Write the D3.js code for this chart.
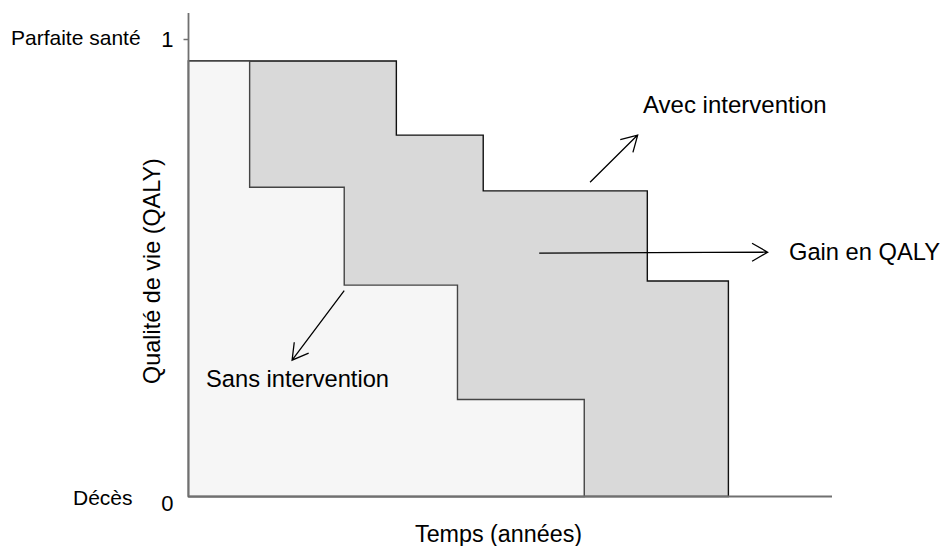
<!DOCTYPE html>
<html>
<head>
<meta charset="utf-8">
<script src="https://cdn.jsdelivr.net/npm/d3@7"></script>
<style>
  html, body { margin: 0; padding: 0; background: #fff; }
  svg { display: block; }
  text { font-family: "Liberation Sans", Arial, sans-serif; fill: #000; }
</style>
</head>
<body>
<svg id="chart" width="946" height="546"></svg>
<script>
// ---- data (time in arbitrary years, quality of life 0..1) ----
const timeDomain = [0, 10];
const qolTicks = [0, 1];
const qolTickLabels = ["0", "1"];
const qolStateLabels = ["Décès", "Parfaite santé"];

// "Sans intervention": step ends and quality level of each step
const sansStepEnds = [0.95, 2.42, 4.18, 6.15];
const sansQoL      = [0.952, 0.676, 0.462, 0.212];

// "Avec intervention"
const avecStepEnds = [3.23, 4.58, 7.13, 8.39];
const avecQoL      = [0.952, 0.79, 0.668, 0.471];

// annotation arrows [t0, q0] -> [t1, q1]
const arrowFrom = [[5.45, 0.532], [6.24, 0.687], [2.42, 0.450]];
const arrowTo   = [[9.00, 0.534], [6.98, 0.790], [1.61, 0.298]];
const arrowLabels = ["Gain en QALY", "Avec intervention", "Sans intervention"];

// ---- layout ----
const svg = d3.select("#chart");
const x = d3.scaleLinear().domain(timeDomain).range([188.5, 832]);
const y = d3.scaleLinear().domain([0, 1]).range([496.5, 39]);

function stepPoints(ends, levels) {
  const pts = [[0, 0]];
  let t0 = 0;
  ends.forEach((t1, i) => {
    pts.push([t0, levels[i]]);
    pts.push([t1, levels[i]]);
    t0 = t1;
  });
  pts.push([t0, 0]);
  return pts;
}

const line = d3.line().x(d => x(d[0])).y(d => y(d[1]));

// with intervention (dark) first, then without (light) on top
svg.append("path")
  .attr("d", line(stepPoints(avecStepEnds, avecQoL)) + "Z")
  .attr("fill", "#d9d9d9")
  .attr("stroke", "#111")
  .attr("stroke-width", 1.4);

svg.append("path")
  .attr("d", line(stepPoints(sansStepEnds, sansQoL)) + "Z")
  .attr("fill", "#f6f6f6")
  .attr("stroke", "#444")
  .attr("stroke-width", 1.4);

// axes
svg.append("line")
  .attr("x1", x(0)).attr("x2", x(0))
  .attr("y1", y(1.057)).attr("y2", y(0))
  .attr("stroke", "#707070").attr("stroke-width", 1.8);
svg.append("line")
  .attr("x1", x(0)).attr("x2", x(timeDomain[1]))
  .attr("y1", y(0)).attr("y2", y(0))
  .attr("stroke", "#707070").attr("stroke-width", 1.8);

const yAxis = svg.append("g")
  .attr("transform", `translate(${x(0)},0)`)
  .call(d3.axisLeft(y).tickValues(qolTicks)
    .tickFormat((d, i) => qolTickLabels[i])
    .tickSize(5).tickPadding(10));
yAxis.select(".domain").remove();
yAxis.selectAll(".tick line").attr("stroke", "#707070").attr("stroke-width", 1.5)
  .attr("opacity", d => d === 0 ? 0 : 1);
yAxis.selectAll(".tick text")
  .attr("font-size", 22)
  .attr("font-family", "Liberation Sans, Arial, sans-serif")
  .attr("fill", "#000")
  .attr("dy", d => d === 0 ? "0.62em" : "0.36em");

// state labels
svg.append("text").attr("x", 11).attr("y", 45)
  .attr("font-size", 21).text(qolStateLabels[1]);
svg.append("text").attr("x", 73).attr("y", 505)
  .attr("font-size", 21).text(qolStateLabels[0]);

// axis titles
svg.append("text").attr("x", 415).attr("y", 542)
  .attr("font-size", 23.3).text("Temps (années)");
svg.append("text")
  .attr("transform", "translate(160,271) rotate(-90)")
  .attr("text-anchor", "middle")
  .attr("font-size", 23.4).text("Qualité de vie (QALY)");

// arrows
function arrow(from, to) {
  const x0 = x(from[0]), y0 = y(from[1]), x1 = x(to[0]), y1 = y(to[1]);
  const ang = Math.atan2(y1 - y0, x1 - x0);
  const L = 18, a = Math.PI / 6;
  const p = d3.path();
  p.moveTo(x0, y0); p.lineTo(x1, y1);
  p.moveTo(x1 - L * Math.cos(ang - a), y1 - L * Math.sin(ang - a));
  p.lineTo(x1, y1);
  p.lineTo(x1 - L * Math.cos(ang + a), y1 - L * Math.sin(ang + a));
  svg.append("path").attr("d", p.toString())
    .attr("fill", "none").attr("stroke", "#000").attr("stroke-width", 1.3);
}
arrowFrom.forEach((f, i) => arrow(f, arrowTo[i]));

// arrow labels
svg.append("text").attr("x", 789).attr("y", 260).attr("font-size", 23.7).text(arrowLabels[0]);
svg.append("text").attr("x", 643).attr("y", 113).attr("font-size", 24).text(arrowLabels[1]);
svg.append("text").attr("x", 206).attr("y", 387).attr("font-size", 23.7).text(arrowLabels[2]);
</script>
</body>
</html>
